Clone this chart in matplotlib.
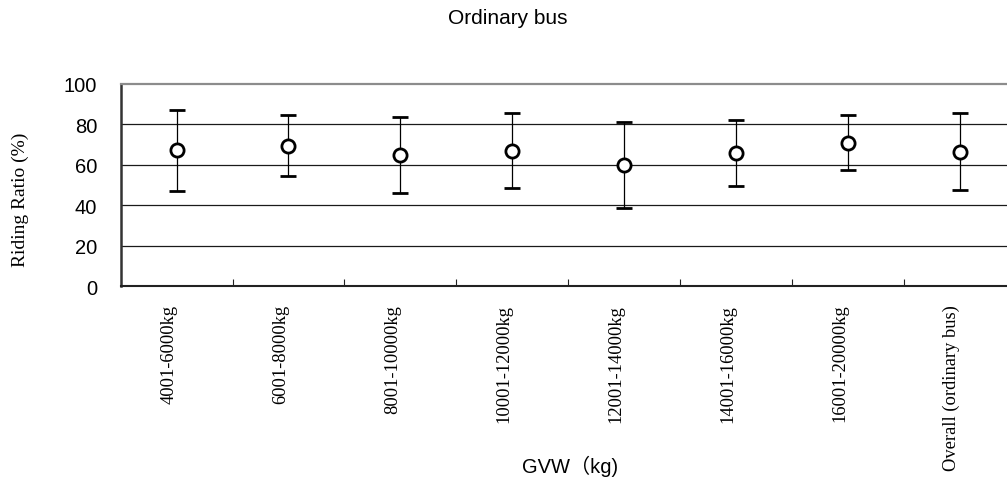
import numpy as np
import matplotlib
matplotlib.use("Agg")
import matplotlib.pyplot as plt
from matplotlib.transforms import ScaledTranslation

# Riding ratio by gross vehicle weight class (mean and standard deviation)
categories = [
    "4001-6000kg",
    "6001-8000kg",
    "8001-10000kg",
    "10001-12000kg",
    "12001-14000kg",
    "14001-16000kg",
    "16001-20000kg",
    "Overall (ordinary bus)",
]
mean_ratio = [67.1, 69.4, 64.8, 66.9, 59.9, 65.8, 70.9, 66.4]
sd_ratio = [20.1, 15.2, 18.8, 18.4, 21.4, 16.3, 13.5, 18.9]
y_ticks = [0, 20, 40, 60, 80, 100]

W, H = 1007, 481
fig = plt.figure(figsize=(W / 100, H / 100), dpi=100)
# plot area runs past the right edge of the figure
ax = fig.add_axes([120.7 / W, 1 - 287.3 / H, 894.8 / W, 202.6 / H])

x = np.arange(len(categories)) + 0.5

ax.errorbar(
    x, mean_ratio, yerr=sd_ratio,
    fmt="o", color="black", ecolor="black",
    elinewidth=0.9, capsize=6, capthick=3.4,
    markersize=9.5, markeredgewidth=2.0,
    markerfacecolor="white", markeredgecolor="black",
    zorder=3,
)

ax.set_xlim(0, len(categories))
ax.set_ylim(0, 100)

# horizontal grid lines
for v in y_ticks[1:-1]:
    ax.axhline(v, color="#1a1a1a", linewidth=0.9, zorder=1)

ax.spines["top"].set_color("#8c8c8c")
ax.spines["top"].set_linewidth(1.6)
ax.spines["right"].set_visible(False)
ax.spines["left"].set_color("#333333")
ax.spines["left"].set_linewidth(1.8)
ax.spines["bottom"].set_color("#222222")
ax.spines["bottom"].set_linewidth(1.5)

ax.set_yticks(y_ticks)
ax.set_yticklabels([str(v) for v in y_ticks], family="Liberation Sans", fontsize=14.5)
ax.tick_params(axis="y", length=0, pad=17)

ax.set_xticks(x)
ax.set_xticklabels(categories, rotation=90, va="top", ha="center",
                   family="Liberation Serif", fontsize=13.3)
ax.tick_params(axis="x", which="major", length=0, pad=12.5)
ax.set_xticks(np.arange(1, len(categories)), minor=True)
ax.tick_params(axis="x", which="minor", direction="in", length=5,
               width=0.8, color="#222222")

shift = ScaledTranslation(-8 / 100, 0, fig.dpi_scale_trans)
for lab in ax.get_xticklabels():
    lab.set_transform(lab.get_transform() + shift)

fig.text(507.5 / W, 1 - 18 / H, "Ordinary bus", ha="center", va="center",
         family="Liberation Sans", fontsize=15)
fig.text(20 / W, 1 - 200 / H, "Riding Ratio (%)", rotation=90,
         ha="center", va="center", family="Liberation Serif", fontsize=14)
fig.text(570 / W, 1 - 466 / H, "GVW（kg)", ha="center", va="center",
         family=["Liberation Sans", "Noto Sans CJK JP"], fontsize=14.5)

fig.savefig("out.png", dpi=100)
